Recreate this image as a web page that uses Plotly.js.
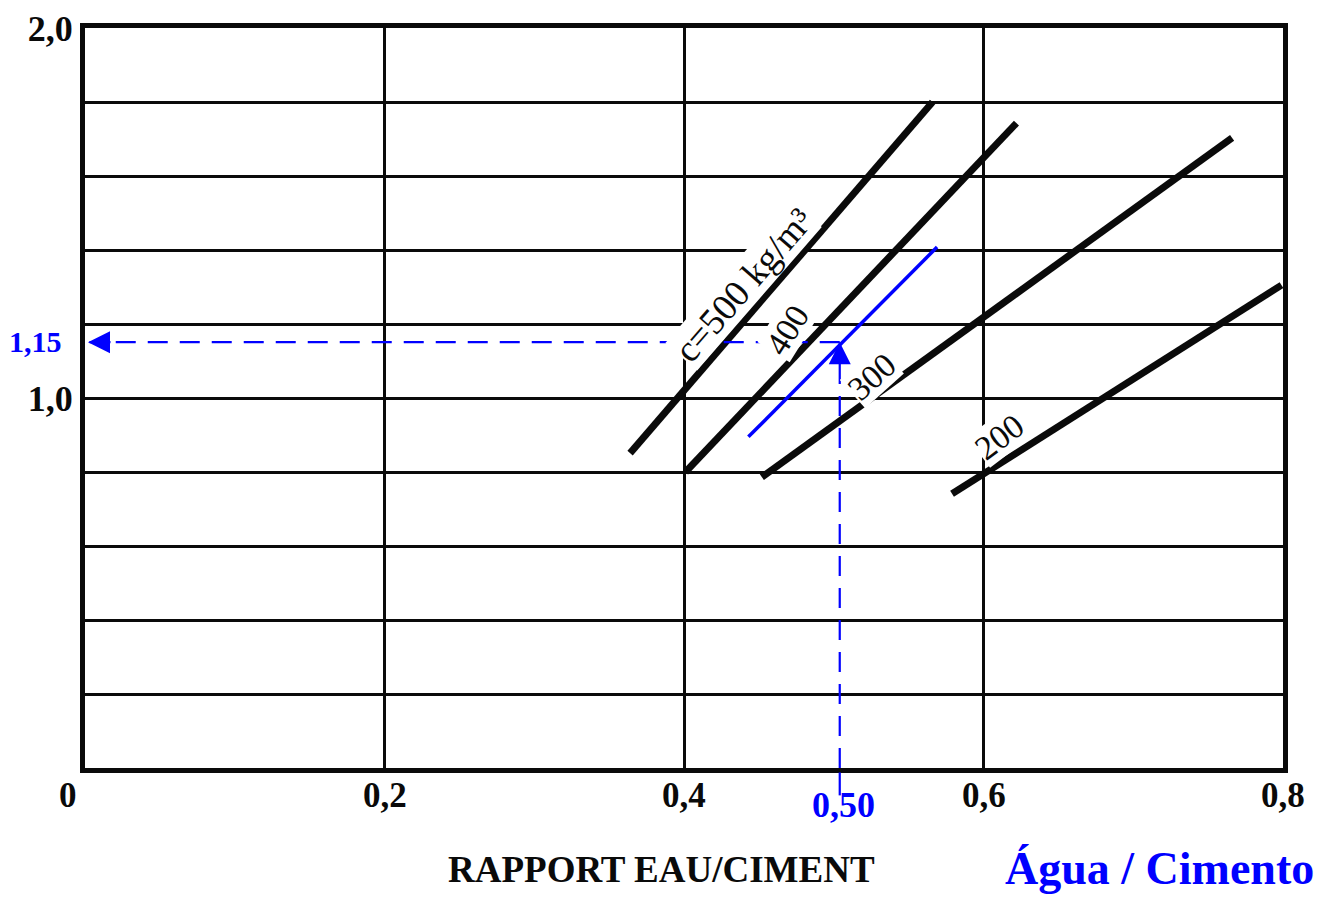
<!DOCTYPE html>
<html>
<head>
<meta charset="utf-8">
<script src="https://cdn.plot.ly/plotly-3.0.1.min.js"></script>
<style>
  html, body { margin: 0; padding: 0; background: #ffffff; }
  #chart { width: 1332px; height: 898px; }
</style>
</head>
<body>
<div id="chart"></div>
<script>
// ---- data ----
const curveLabels = ['c=500 kg/m³', '400', '300', '200'];
const x500 = [0.364, 0.566];
const y500 = [0.851, 1.800];
const x400 = [0.401, 0.622];
const y400 = [0.800, 1.743];
const x300 = [0.452, 0.766];
const y300 = [0.786, 1.703];
const x200 = [0.579, 0.799];
const y200 = [0.741, 1.305];

// blue construction line and reading (position as drawn in the picture)
const xBlue = [0.443, 0.569];
const yBlue = [0.895, 1.408];
const readX = 0.504;
const readY = 1.151;
const readXText = '0,50';
const readYText = '1,15';

// label anchor positions (data units) and angles
const labelX = [0.4394, 0.4694, 0.5255, 0.611];
const labelY = [1.305, 1.184, 1.059, 0.895];
const labelAngle = [-49, -58, -42, -37];
const labelSize = [37, 34, 34, 34];

// axes
const xTickVals = [0, 0.2, 0.4, 0.6, 0.8];
const xTickText = ['0', '0,2', '0,4', '0,6', '0,8'];
const xTickShift = [-17, 0, 0, 0, 0];
const yTickVals = [1.0, 2.0];
const yTickText = ['1,0', '2,0'];
const yMinorGrid = [0.2, 0.4, 0.6, 0.8, 1.2, 1.4, 1.6, 1.8];
const xTitle = 'RAPPORT EAU/CIMENT';
const xTitlePt = 'Água / Cimento';

const serif = 'Liberation Serif, Times New Roman, serif';
const BLUE = '#0000ff';
const INK = '#0a0a0a';

const curveStyle = {color: INK, width: 7};
const traces = [
  {x: x500, y: y500, name: curveLabels[0]},
  {x: x400, y: y400, name: curveLabels[1]},
  {x: x300, y: y300, name: curveLabels[2]},
  {x: x200, y: y200, name: curveLabels[3]}
].map(t => Object.assign(t, {type: 'scatter', mode: 'lines', line: curveStyle, hoverinfo: 'skip'}));

traces.push({type: 'scatter', mode: 'lines', x: xBlue, y: yBlue,
  line: {color: BLUE, width: 3.5}, hoverinfo: 'skip'});
traces.push({type: 'scatter', mode: 'lines', x: [readX, 0.003], y: [readY, readY],
  line: {color: BLUE, width: 2.2, dash: '20px,12px'}, hoverinfo: 'skip'});
traces.push({type: 'scatter', mode: 'lines', x: [readX, readX], y: [0, readY],
  line: {color: BLUE, width: 2.2, dash: '20px,12px'}, hoverinfo: 'skip'});

const annotations = curveLabels.map((t, i) => ({
  xref: 'x', yref: 'y', x: labelX[i], y: labelY[i], text: t,
  showarrow: false, textangle: labelAngle[i],
  font: {family: serif, size: labelSize[i], color: INK},
  bgcolor: '#ffffff', borderpad: 0
}));

// x tick labels
xTickVals.forEach((v, i) => annotations.push({
  xref: 'x', yref: 'paper', x: v, y: -0.0365, xshift: xTickShift[i], text: xTickText[i],
  showarrow: false, xanchor: 'center', yanchor: 'middle',
  font: {family: serif, size: 35, color: INK, weight: 'bold'}
}));

// arrow heads
annotations.push({xref: 'x', yref: 'y', x: 0.002, y: readY, ax: 24, ay: 0, text: '',
  showarrow: true, arrowhead: 2, arrowsize: 2, arrowwidth: 2.2, arrowcolor: BLUE});
annotations.push({xref: 'x', yref: 'y', x: readX, y: readY, ax: 0, ay: 22, text: '',
  showarrow: true, arrowhead: 2, arrowsize: 2, arrowwidth: 2.2, arrowcolor: BLUE});

// blue reading labels
annotations.push({xref: 'paper', yref: 'paper', x: -0.041, y: 0.5757, text: '<b>' + readYText + '</b>',
  showarrow: false, xanchor: 'center', yanchor: 'middle',
  font: {family: serif, size: 30, color: BLUE}});
annotations.push({xref: 'paper', yref: 'paper', x: 0.633, y: -0.05, text: '<b>' + readXText + '</b>',
  showarrow: false, xanchor: 'center', yanchor: 'middle',
  font: {family: serif, size: 36, color: BLUE}});

// axis titles
annotations.push({xref: 'paper', yref: 'paper', x: 0.481, y: -0.137, text: '<b>' + xTitle + '</b>',
  showarrow: false, xanchor: 'center', yanchor: 'middle',
  font: {family: serif, size: 37, color: INK}});
annotations.push({xref: 'paper', yref: 'paper', x: 0.897, y: -0.1725, text: '<b>' + xTitlePt + '</b>',
  showarrow: false, xanchor: 'center', yanchor: 'bottom',
  font: {family: serif, size: 46, color: BLUE}});

const layout = {
  width: 1332, height: 898,
  margin: {l: 85, r: 49, t: 28, b: 130},
  paper_bgcolor: '#ffffff', plot_bgcolor: '#ffffff',
  showlegend: false,
  xaxis: {
    range: [0, 0.8], fixedrange: true,
    tickmode: 'array', tickvals: xTickVals, showticklabels: false,
    showgrid: true, gridcolor: INK, gridwidth: 3,
    zeroline: false, showline: true, linecolor: INK, linewidth: 5, mirror: true,
    ticks: ''
  },
  yaxis: {
    range: [0, 2], fixedrange: true,
    tickmode: 'array', tickvals: yTickVals, ticktext: yTickText,
    showgrid: true, gridcolor: INK, gridwidth: 3,
    minor: {tickmode: 'array', tickvals: yMinorGrid, showgrid: true, gridcolor: INK, gridwidth: 3, ticks: ''},
    zeroline: false, showline: true, linecolor: INK, linewidth: 5, mirror: true,
    ticks: '', ticklabelstandoff: 0,
    tickfont: {family: serif, size: 36, color: INK, weight: 'bold'}
  },
  shapes: [
    // short continuation of the vertical reading line below the axis
    {type: 'line', xref: 'x', yref: 'paper', x0: readX, x1: readX, y0: -0.006, y1: -0.037,
     line: {color: BLUE, width: 2.2}}
  ],
  annotations: annotations
};

Plotly.newPlot('chart', traces, layout, {displayModeBar: false, staticPlot: true});
</script>
</body>
</html>
